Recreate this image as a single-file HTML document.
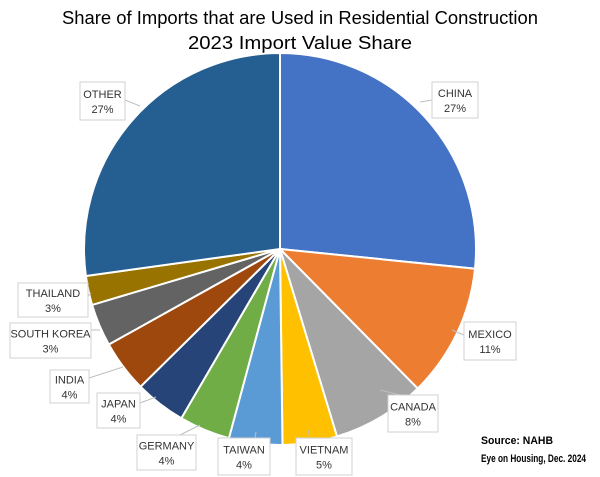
<!DOCTYPE html>
<html><head><meta charset="utf-8"><style>
html,body{margin:0;padding:0;background:#fff;}
svg{display:block;font-family:"Liberation Sans",sans-serif;}
</style></head><body>
<svg id="s" width="600" height="477" viewBox="0 0 600 477">
<text x="300" y="24" text-anchor="middle" font-size="18" textLength="476" lengthAdjust="spacingAndGlyphs" fill="#000">Share of Imports that are Used in Residential Construction</text>
<text x="300" y="49" text-anchor="middle" font-size="18" textLength="224" lengthAdjust="spacingAndGlyphs" fill="#000">2023 Import Value Share</text>
<g id="pie"></g>
<g id="lab"></g>
<text x="481" y="444" font-size="11" font-weight="bold" textLength="72" lengthAdjust="spacingAndGlyphs" fill="#000">Source: NAHB</text>
<text x="481" y="462" font-size="11" font-weight="bold" textLength="105" lengthAdjust="spacingAndGlyphs" fill="#000">Eye on Housing, Dec. 2024</text>
</svg>
<script>
var cx=280,cy=249,r=196;
var sl=[["#4472C4",26.6],["#ED7D31",11.0],["#A5A5A5",7.7],["#FFC000",4.5],["#5B9BD5",4.4],["#70AD47",4.2],["#264478",4.2],["#9E480E",4.3],["#636363",3.5],["#997300",2.4],["#255E91",27.2]];
var a=0,h="";
function pt(p){var t=p/100*2*Math.PI;return [cx+r*Math.sin(t),cy-r*Math.cos(t)];}
sl.forEach(function(s){var p1=pt(a),b=a+s[1],p2=pt(b);
h+='<path d="M'+cx+','+cy+' L'+p1[0].toFixed(1)+','+p1[1].toFixed(1)+' A'+r+','+r+' 0 '+(s[1]>50?1:0)+' 1 '+p2[0].toFixed(1)+','+p2[1].toFixed(1)+' Z" fill="'+s[0]+'" stroke="#fff" stroke-width="2"/>';a=b;});
document.getElementById("pie").innerHTML=h;
var L=[["CHINA","27%",432,82,478,118,432,100,420,102],["MEXICO","11%",464,322,516,360,464,335,452,330],["CANADA","8%",388,395,438,432,400,395,380,390],["VIETNAM","5%",296,438,352,475,310,438,308,430],["TAIWAN","4%",218,438,270,475,255,438,256,432],["GERMANY","4%",137,435,196,470,180,435,200,425],["JAPAN","4%",97,393,140,428,140,403,156,397],["INDIA","4%",50,370,89,403,89,378,123,367],["SOUTH KOREA","3%",10,323,91,358,91,330,100,330],["THAILAND","3%",18,283,88,317,88,296,91,293],["OTHER","27%",80,82,125,120,125,100,140,106]];
var g="";
L.forEach(function(l){g+='<line x1="'+l[6]+'" y1="'+l[7]+'" x2="'+l[8]+'" y2="'+l[9]+'" stroke="#bfbfbf" stroke-width="1"/>';
g+='<rect x="'+l[2]+'" y="'+l[3]+'" width="'+(l[4]-l[2])+'" height="'+(l[5]-l[3])+'" fill="#fff" stroke="#d0d0d0" stroke-width="1"/>';
var mx=(l[2]+l[4])/2,my=(l[3]+l[5])/2;
g+='<text x="'+mx+'" y="'+(my-3)+'" text-anchor="middle" font-size="11" fill="#333">'+l[0]+'</text>';
g+='<text x="'+mx+'" y="'+(my+12)+'" text-anchor="middle" font-size="11" fill="#333">'+l[1]+'</text>';});
document.getElementById("lab").innerHTML=g;
</script>
</body></html>
